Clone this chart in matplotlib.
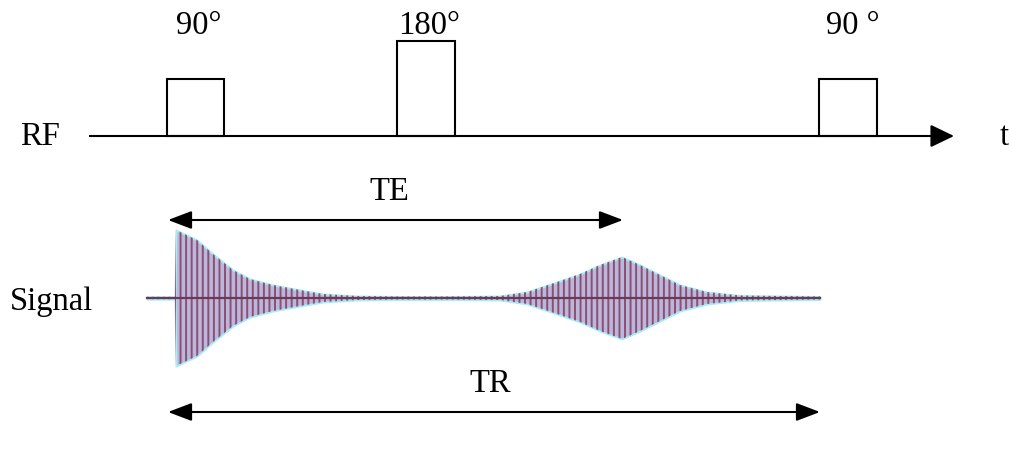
import numpy as np
import matplotlib
matplotlib.use('Agg')
import matplotlib.pyplot as plt

# all positions in pixels of the 1010x454 picture (y grows downward)
rf_y = 136
pulse_x = [167, 397, 819]
pulse_w = [57, 58, 58]
pulse_h = [57, 95, 57]
pulse_lbl = ['90\u00b0', '180\u00b0', '90 \u00b0']
pulse_lbl_x = [199, 429, 853]

sig_y = 298
# envelope of the signal (x, half amplitude)
env_x = [147, 175, 176, 197, 213, 233, 250, 273, 300, 323, 357, 400, 450, 500,
         527, 557, 580, 600, 622, 640, 660, 680, 707, 740, 780, 820]
env_a = [1.2, 1.2, 68, 58, 44, 28, 19, 13, 8, 4, 2, 1.5, 1.5, 2,
         6, 16, 24, 33, 41, 33, 23, 13, 6, 2.5, 2, 1.5]

te_y, te_x0, te_x1 = 220, 168, 623
tr_y, tr_x0, tr_x1 = 412, 168, 820

plt.rcParams['font.family'] = ['Liberation Serif', 'DejaVu Serif']
plt.rcParams['hatch.linewidth'] = 1.4
fs = 23.5

fig = plt.figure(figsize=(10.1, 4.54), dpi=100)
ax = fig.add_axes([0, 0, 1, 1])
ax.set_xlim(0, 1010)
ax.set_ylim(454, 0)
ax.axis('off')

# RF line with arrow
ax.plot([89, 935], [rf_y, rf_y], color='black', lw=1.5, solid_capstyle='butt')
ax.annotate('', xy=(954, rf_y), xytext=(930, rf_y),
            arrowprops=dict(arrowstyle='-|>,head_length=1.45,head_width=0.7',
                            color='black', lw=1.5, shrinkA=0, shrinkB=0))
ax.bar(pulse_x, [-h for h in pulse_h], width=pulse_w, bottom=rf_y, align='edge',
       fill=False, edgecolor='black', linewidth=1.5, zorder=3)
for lx, lb in zip(pulse_lbl_x, pulse_lbl):
    ax.text(lx, 34, lb, fontsize=fs, ha='center', va='baseline')
ax.text(20, 145, 'RF', fontsize=fs, ha='left', va='baseline')
ax.text(1000, 145, 't', fontsize=fs, ha='left', va='baseline')

# signal
ex = np.array(env_x)
ea = np.array(env_a)
ax.fill_between(ex, sig_y - ea, sig_y + ea, facecolor='#bdb6dc',
                edgecolor='#a8ecf6', linewidth=1.4, zorder=2)
ax.fill_between(ex, sig_y - ea, sig_y + ea, facecolor='none',
                edgecolor='#8a5070', hatch='|||', linewidth=0, zorder=2)
ax.plot([147, 820], [sig_y, sig_y], color='#6b3b55', lw=1.6, zorder=3)
ax.text(93, 310, 'Signal', fontsize=fs, ha='right', va='baseline')

# TE / TR arrows
for y, x0, x1, lb, lx in [(te_y, te_x0, te_x1, 'TE', 389), (tr_y, tr_x0, tr_x1, 'TR', 490)]:
    ax.annotate('', xy=(x0, y), xytext=(x1, y),
                arrowprops=dict(arrowstyle='<|-|>,head_length=1.45,head_width=0.55',
                                color='black', lw=1.5, shrinkA=0, shrinkB=0))
    ax.text(lx, y - 20, lb, fontsize=fs, ha='center', va='baseline')

fig.savefig('out.png', dpi=100)
